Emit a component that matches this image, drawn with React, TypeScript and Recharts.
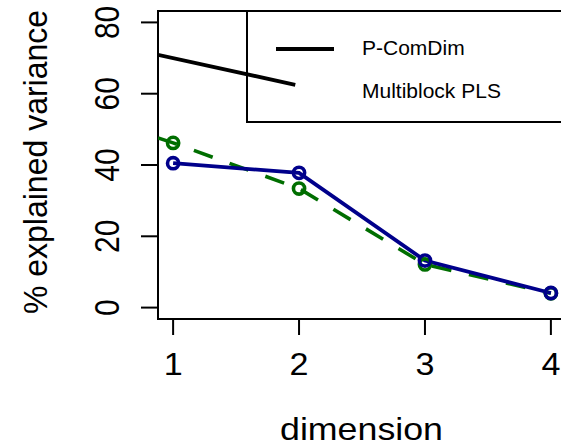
import React from 'react';
import { LineChart, Line, XAxis, YAxis, ReferenceArea } from 'recharts';

const dimensions = [1, 2, 3, 4];
const pComDim = [40.5, 37.8, 13.2, 4.1];
const multiblockPls = [46.2, 33.4, 12.1, 4.0];
// green dashed line runs on past dimension 1 to the left edge
const plsLeftEdge = { dim: 0.88, value: 47.6 };
// stray black segment under the legend
const blackSegment = [
  { dim: 0.88, value: 70.9 },
  { dim: 1.97, value: 62.5 },
];
const yTicks = [0, 20, 40, 60, 80];
const legendLabels = ['P-ComDim', 'Multiblock PLS'];

const blueData = dimensions.map((d, i) => ({ dim: d, value: pComDim[i] }));
const greenData = [plsLeftEdge, ...dimensions.map((d, i) => ({ dim: d, value: multiblockPls[i] }))];

const font = '"Liberation Sans", Arial, sans-serif';

const Ring = (color: string) => (props: any) => {
  const { cx, cy, payload, index } = props;
  if (payload.dim < 1) return <g key={index} />;
  return <circle key={index} cx={cx} cy={cy} r={5.6} fill="none" stroke={color} strokeWidth={3.6} />;
};

// the R device stretched text a little horizontally
const XTick = ({ x, y, payload }: any) => (
  <text textAnchor="middle" fontSize={31} fontFamily={font} fill="#000"
    transform={`translate(${x}, ${y + 38}) scale(1.1, 1)`}>
    {payload.value}
  </text>
);

const YTick = ({ y, payload }: any) => (
  <text textAnchor="middle" fontSize={30} fontFamily={font} fill="#000"
    transform={`translate(119, ${y}) scale(1.15, 1) rotate(-90)`}>
    {payload.value}
  </text>
);

// legend box drawn over the plot, transparent like the R legend
const LegendBox = () => (
  <div style={{ position: 'absolute', left: 246, top: 10, width: 340, height: 113, border: '2px solid #000', boxSizing: 'border-box', fontFamily: font, pointerEvents: 'none' }}>
    <div style={{ position: 'absolute', left: 28, top: 35, width: 58, height: 3.5, background: '#000' }} />
    <div style={{ position: 'absolute', left: 114, top: 24, fontSize: 21, lineHeight: '24px' }}>{legendLabels[0]}</div>
    <div style={{ position: 'absolute', left: 114, top: 67, fontSize: 21, lineHeight: '24px' }}>{legendLabels[1]}</div>
  </div>
);

export default function App() {
  return (
    <div style={{ position: 'absolute', left: 0, top: 0, width: 561, height: 446, overflow: 'hidden', background: '#fff' }}>
      <LineChart width={572} height={446} margin={{ top: 11, right: 6, bottom: 0, left: 0 }}>
        <XAxis
          dataKey="dim"
          type="number"
          domain={[0.88, 4.12]}
          ticks={dimensions}
          allowDataOverflow
          height={127}
          tickSize={16}
          tickMargin={2}
          axisLine={false}
          tickLine={{ stroke: '#000', strokeWidth: 2 }}
          tick={<XTick />}
          label={{
            value: 'dimension',
            content: () => (
              <text x={280} y={440} fontSize={32} fontFamily={font} fill="#000"
                textLength={163} lengthAdjust="spacingAndGlyphs">dimension</text>
            ),
          }}
        />
        <YAxis
          type="number"
          domain={[-3.2, 83.2]}
          ticks={yTicks}
          allowDataOverflow
          width={158}
          tickSize={17}
          tickMargin={2}
          axisLine={false}
          tickLine={{ stroke: '#000', strokeWidth: 2 }}
          tick={<YTick />}
          label={{
            value: '% explained variance',
            content: () => (
              <text textAnchor="middle" fontSize={32} fontFamily={font} fill="#000"
                transform="translate(47, 162) scale(1.06, 1) rotate(-90)">% explained variance</text>
            ),
          }}
        />
        <ReferenceArea x1={0.88} x2={4.12} y1={-3.2} y2={83.2} fill="none" stroke="#000" strokeWidth={2} fillOpacity={0} />
        <Line data={blackSegment} dataKey="value" stroke="#000" strokeWidth={3.8} dot={false} isAnimationActive={false} />
        <Line data={greenData} dataKey="value" stroke="#006e00" strokeWidth={3.6} strokeDasharray="20 18" dot={Ring('#006e00')} isAnimationActive={false} />
        <Line data={blueData} dataKey="value" stroke="#00008B" strokeWidth={3.8} dot={Ring('#00008B')} isAnimationActive={false} />
      </LineChart>
      <LegendBox />
    </div>
  );
}
